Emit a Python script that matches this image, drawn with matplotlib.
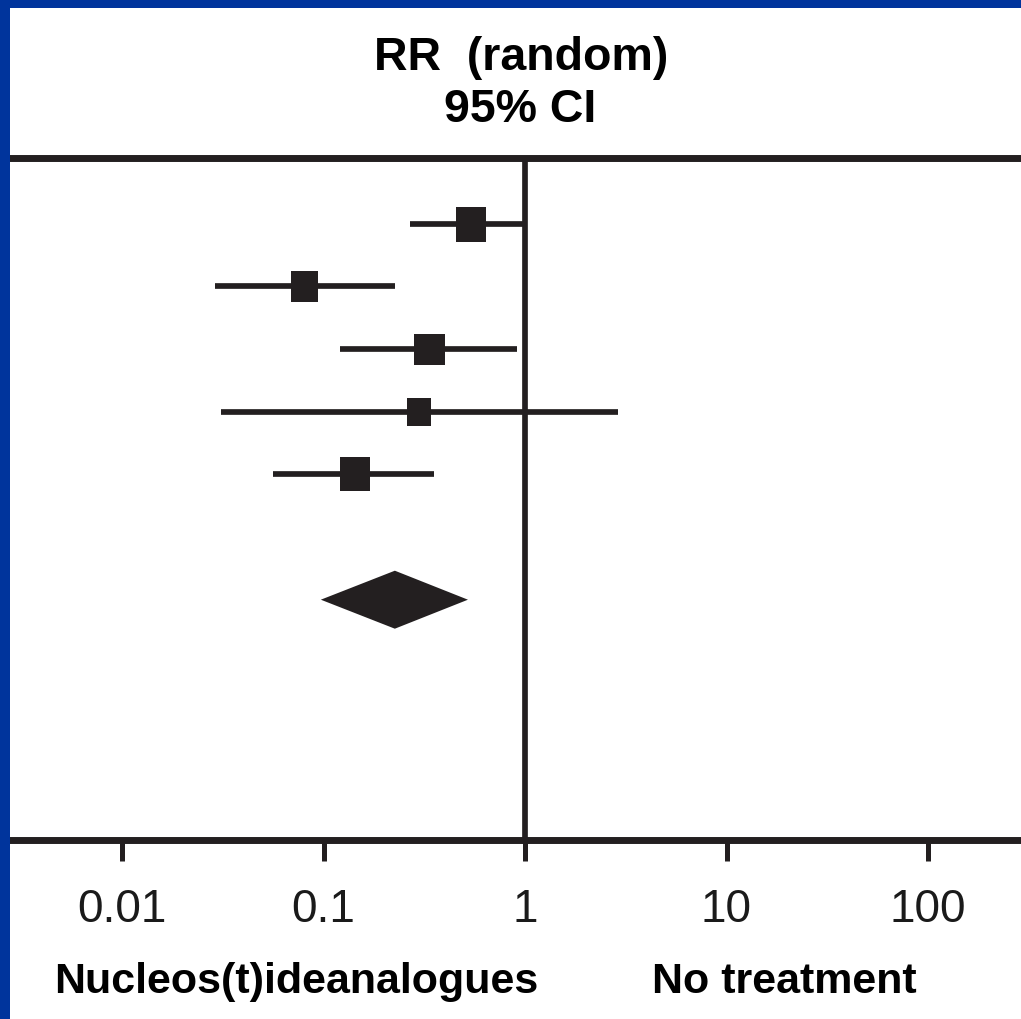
import numpy as np
import matplotlib
matplotlib.use("Agg")
import matplotlib.pyplot as plt
from matplotlib.patches import Polygon, Rectangle

# forest plot values (risk ratio, 95% CI)
rr = [0.54, 0.080, 0.332, 0.298, 0.143]
ci_lo = [0.27, 0.029, 0.121, 0.031, 0.056]
ci_hi = [0.98, 0.226, 0.912, 2.89, 0.353]

# pooled estimate (random effects)
pooled_rr = 0.226
pooled_lo = 0.097
pooled_hi = 0.521

tick_vals = [0.01, 0.1, 1, 10, 100]
tick_labels = ["0.01", "0.1", "1", "10", "100"]
left_label = "Nucleos(t)ideanalogues"
right_label = "No treatment"

# box sizes in px (width, height), roughly the study weights
box_w = [30, 27, 31, 24, 30]
box_h = [35, 31, 31, 28, 34]

W, H = 1021, 1020
DARK = "#231f20"
BLUE = "#00349c"

plt.rcParams["font.family"] = ["Liberation Sans", "DejaVu Sans"]

fig = plt.figure(figsize=(W / 100, H / 100), dpi=100)
fig.patch.set_facecolor("white")

# axes from the top rule (y=159) to the bottom rule (y=841)
ax = fig.add_axes([10 / W, 1 - 841 / H, 1011 / W, (841 - 159) / H])
ax.set_xscale("log")
px_per_dec = 201.5
ax.set_xlim(10 ** ((10 - 525) / px_per_dec), 10 ** ((1021 - 525) / px_per_dec))
row_px = 62.7
ax.set_ylim((841 - 224.5) / row_px, (159 - 224.5) / row_px)

for s in ["left", "right"]:
    ax.spines[s].set_visible(False)
for s in ["top", "bottom"]:
    ax.spines[s].set_linewidth(5)
    ax.spines[s].set_color(DARK)

ax.axvline(1, color=DARK, lw=4.1, zorder=2)

rows = np.arange(len(rr))
ax.hlines(rows, ci_lo, ci_hi, color=DARK, lw=4.1, zorder=3)
for i in rows:
    r = box_w[i] / box_h[i] / 2
    verts = [(-r, -0.5), (r, -0.5), (r, 0.5), (-r, 0.5), (-r, -0.5)]
    ax.plot(rr[i], i, marker=verts, markersize=box_h[i] * 0.72,
            color=DARK, markeredgewidth=0, linestyle="none", zorder=4)

# pooled diamond
yd = len(rr) + 1
hh = 29 / row_px
ax.add_patch(Polygon([(pooled_lo, yd), (pooled_rr, yd - hh),
                      (pooled_hi, yd), (pooled_rr, yd + hh)],
                     closed=True, facecolor=DARK, edgecolor="none", zorder=4))

ax.set_yticks([])
ax.set_xticks(tick_vals)
ax.set_xticklabels(tick_labels)
ax.minorticks_off()
ax.tick_params(axis="x", which="major", direction="out", length=15, width=3.6,
               color=DARK, pad=19, labelsize=33, labelcolor="#1a1a1a")

# header
fig.text(521 / W, 1 - 70 / H, "RR  (random)", ha="center", va="baseline",
         fontsize=33.5, fontweight="bold")
fig.text(520 / W, 1 - 122 / H, "95% CI", ha="center", va="baseline",
         fontsize=33.5, fontweight="bold")

# direction labels
fig.text(296 / W, 1 - 993 / H, left_label, ha="center", va="baseline",
         fontsize=31, fontweight="bold")
fig.text(784 / W, 1 - 993 / H, right_label, ha="center", va="baseline",
         fontsize=31, fontweight="bold")

# slide border
fig.add_artist(Rectangle((0, 0), 10 / W, 1, transform=fig.transFigure,
                         facecolor=BLUE, edgecolor="none", zorder=10))
fig.add_artist(Rectangle((0, 1 - 9 / H), 1, 9 / H, transform=fig.transFigure,
                         facecolor=BLUE, edgecolor="none", zorder=10))

fig.savefig("out.png", dpi=100)
